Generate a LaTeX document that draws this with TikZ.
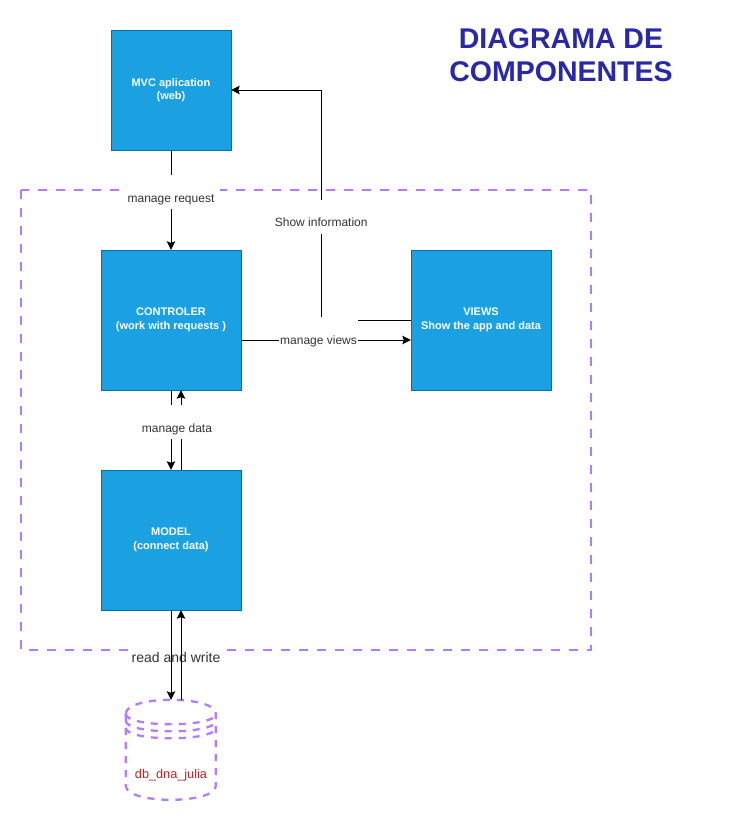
\documentclass[tikz,border=0pt]{standalone}
\usepackage{fontspec}
\setmainfont{Liberation Sans}
\usetikzlibrary{arrows.meta}
\definecolor{boxfill}{HTML}{1BA1E2}
\definecolor{boxline}{HTML}{006EAF}
\definecolor{lilac}{HTML}{B57BFF}
\definecolor{dbred}{HTML}{B82525}
\definecolor{titleblue}{HTML}{2828A8}
\definecolor{labelgray}{HTML}{333333}
\tikzset{
  comp/.style={draw=boxline, fill=boxfill, text=white, font=\fontsize{11}{13.5}\selectfont\bfseries, align=center, minimum width=140pt, minimum height=140pt, inner sep=0pt},
  elabel/.style={fill=white, text=labelgray, font=\fontsize{12}{14}\selectfont, inner xsep=1pt, inner ysep=2pt, text height=25pt, text depth=5pt},
  rwlabel/.style={fill=white, text=labelgray, font=\fontsize{14}{16}\selectfont, inner xsep=1pt, inner ysep=5pt},
  flow/.style={-{Stealth[length=8.5pt,width=8.5pt,inset=1.5pt]}, line width=1pt},
  frame/.style={draw=lilac, line width=2.3pt, dash pattern=on 9pt off 9pt},
}
\begin{document}
\begin{tikzpicture}[x=1pt,y=-1pt]
\useasboundingbox (0,0) rectangle (732,822);
\node[font=\fontsize{28.5}{33}\selectfont\bfseries, text=titleblue, align=center] (title) at (561,55.5) {DIAGRAMA DE\\COMPONENTES};
\draw[frame] (21,190) rectangle (591,650);
\node[comp, minimum width=120pt, minimum height=120pt] (mvc) at (171,90) {MVC aplication\\(web)};
\node[comp] (ctrl) at (171,320) {CONTROLER\\(work with requests )};
\node[comp] (views) at (481,320) {VIEWS\\Show the app and data};
\node[comp] (model) at (171,540) {MODEL\\(connect data)};
\node[minimum width=90pt, minimum height=100pt, inner sep=0pt] (db) at (171,750) {};
\draw[frame, dash pattern=on 7pt off 7pt, shift={(db.north west)}] (0,14) .. controls (0,-4.67) and (90,-4.67) .. (90,14) -- (90,86) .. controls (90,104.67) and (0,104.67) .. (0,86) -- cycle;
\draw[frame, dash pattern=on 7pt off 7pt, shift={(db.north west)}] (0,14) .. controls (0,28) and (90,28) .. (90,14);
\draw[frame, dash pattern=on 7pt off 7pt, shift={(db.north west)}] (0,21) .. controls (0,35) and (90,35) .. (90,21);
\draw[frame, dash pattern=on 7pt off 7pt, shift={(db.north west)}] (0,28) .. controls (0,42) and (90,42) .. (90,28);
\node[font=\fontsize{12.7}{15}\selectfont, text=dbred] (dbname) at (171,775) {db\_dna\_julia};
\draw[flow] (mvc.south) -- node[elabel, pos=0.42, inner xsep=6pt] {manage request} (ctrl.north);
\draw[flow] (views.west) -| ([xshift=90]mvc.east) node[elabel, pos=0.725] {Show information} -- (mvc.east);
\draw[flow] ([yshift=-20]ctrl.east) -- node[elabel, pos=0.456, yshift=6pt] {manage views} ([yshift=-20]views.west);
\draw[flow] ([xshift=10]model.north) -- ([xshift=10]ctrl.south);
\draw[flow] (ctrl.south) -- node[elabel, pos=0.4, xshift=6] {manage data} (model.north);
\node[rwlabel] (rw) at (176,657) {read and write};
\draw[flow] (model.south) -- (db.north);
\draw[flow] ([xshift=10]db.north) -- ([xshift=10]model.south);
\end{tikzpicture}
\end{document}
